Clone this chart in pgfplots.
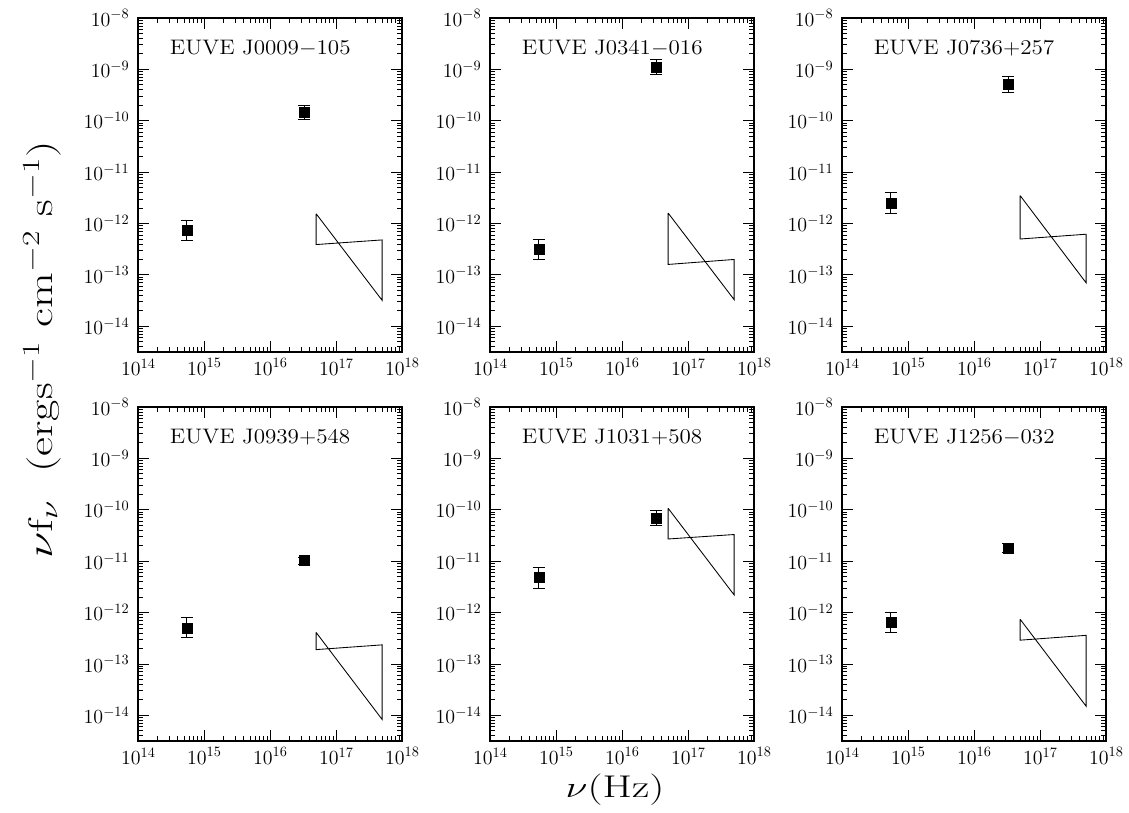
\documentclass[border=0pt]{standalone}
\usepackage{pgfplots}
\pgfplotsset{compat=1.18}

% tick label: 10 with a large raised exponent
\newcommand{\tl}[1]{\fontsize{14}{14}\selectfont 10\raisebox{5pt}{\fontsize{10}{10}\selectfont #1}}

% 1 px of the reference = 0.7pt
\pgfplotsset{every axis/.append style={
    xmode=log, ymode=log,
    scale only axis, width=184.8pt, height=233.8pt,
    anchor=north west,
    xmin=1e14, xmax=1e18, ymin=3.1623e-15, ymax=1e-8,
    xtick={1e14,1e15,1e16,1e17,1e18},
    ytick={1e-14,1e-13,1e-12,1e-11,1e-10,1e-9,1e-8},
    xticklabels={\tl{14},\tl{15},\tl{16},\tl{17},\tl{18}},
    yticklabels={\tl{$-$14},\tl{$-$13},\tl{$-$12},\tl{$-$11},\tl{$-$10},\tl{$-$9},\tl{$-$8}},
    xticklabel style={yshift=-1pt},
    yticklabel style={xshift=-3pt},
    minor xtick={2e14,3e14,4e14,5e14,6e14,7e14,8e14,9e14,
                 2e15,3e15,4e15,5e15,6e15,7e15,8e15,9e15,
                 2e16,3e16,4e16,5e16,6e16,7e16,8e16,9e16,
                 2e17,3e17,4e17,5e17,6e17,7e17,8e17,9e17},
    minor ytick={4e-15,5e-15,6e-15,7e-15,8e-15,9e-15,
                 2e-14,3e-14,4e-14,5e-14,6e-14,7e-14,8e-14,9e-14,
                 2e-13,3e-13,4e-13,5e-13,6e-13,7e-13,8e-13,9e-13,
                 2e-12,3e-12,4e-12,5e-12,6e-12,7e-12,8e-12,9e-12,
                 2e-11,3e-11,4e-11,5e-11,6e-11,7e-11,8e-11,9e-11,
                 2e-10,3e-10,4e-10,5e-10,6e-10,7e-10,8e-10,9e-10,
                 2e-9,3e-9,4e-9,5e-9,6e-9,7e-9,8e-9,9e-9},
    major tick length=8pt, minor tick length=3.5pt,
    axis line style={line width=0.9pt},
    tick style={black, line width=0.6pt},
}}
\newcommand{\ptitle}[1]{\node[anchor=west, font=\fontsize{14.7}{15}\selectfont, xscale=1.1]
  at (axis description cs:0.1,0.91) {#1};}

\begin{document}
\begin{tikzpicture}
\useasboundingbox (0,0) rectangle (790.3pt,-569.1pt);

% row 1
\begin{axis}[at={(96.6pt,-12.6pt)}]
\addplot[only marks, mark=square*, mark size=3.5pt, black,
  error bars/y dir=both, error bars/y explicit,
  error bars/error bar style={line width=0.7pt},
  error bars/error mark options={rotate=90, black, mark size=4.3pt, line width=0.7pt}]
  coordinates {(5.5e14,7.4e-13) += (0,4.1e-13) -= (0,2.8e-13)
  (3.3e16,1.45e-10) += (0,0.55e-10) -= (0,0.4e-10)};
\addplot[black, line width=0.6pt, mark=none] coordinates {(5e16,1.55e-12) (5e16,3.9e-13) (5e17,4.8e-13) (5e17,3.2e-14) (5e16,1.55e-12)};
\ptitle{EUVE J0009$-$105}
\end{axis}

\begin{axis}[at={(343pt,-12.6pt)}]
\addplot[only marks, mark=square*, mark size=3.5pt, black,
  error bars/y dir=both, error bars/y explicit,
  error bars/error bar style={line width=0.7pt},
  error bars/error mark options={rotate=90, black, mark size=4.3pt, line width=0.7pt}]
  coordinates {(5.5e14,3.2e-13) += (0,1.8e-13) -= (0,1.2e-13)
  (3.3e16,1.12e-9) += (0,4.6e-10) -= (0,3.4e-10)};
\addplot[black, line width=0.6pt, mark=none] coordinates {(5e16,1.6e-12) (5e16,1.6e-13) (5e17,2.0e-13) (5e17,3.3e-14) (5e16,1.6e-12)};
\ptitle{EUVE J0341$-$016}
\end{axis}

\begin{axis}[at={(589.4pt,-12.6pt)}]
\addplot[only marks, mark=square*, mark size=3.5pt, black,
  error bars/y dir=both, error bars/y explicit,
  error bars/error bar style={line width=0.7pt},
  error bars/error mark options={rotate=90, black, mark size=4.3pt, line width=0.7pt}]
  coordinates {(5.5e14,2.5e-12) += (0,1.5e-12) -= (0,0.95e-12)
  (3.3e16,5.1e-10) += (0,2.1e-10) -= (0,1.5e-10)};
\addplot[black, line width=0.6pt, mark=none] coordinates {(5e16,3.5e-12) (5e16,5e-13) (5e17,6.2e-13) (5e17,7e-14) (5e16,3.5e-12)};
\ptitle{EUVE J0736$+$257}
\end{axis}

% row 2
\begin{axis}[at={(96.6pt,-284.9pt)}]
\addplot[only marks, mark=square*, mark size=3.5pt, black,
  error bars/y dir=both, error bars/y explicit,
  error bars/error bar style={line width=0.7pt},
  error bars/error mark options={rotate=90, black, mark size=4.3pt, line width=0.7pt}]
  coordinates {(5.5e14,5e-13) += (0,3e-13) -= (0,1.8e-13)
  (3.3e16,1.05e-11) += (0,1.5e-12) -= (0,1.8e-12)};
\addplot[black, line width=0.6pt, mark=none] coordinates {(5e16,4.1e-13) (5e16,1.9e-13) (5e17,2.35e-13) (5e17,8.3e-15) (5e16,4.1e-13)};
\ptitle{EUVE J0939$+$548}
\end{axis}

\begin{axis}[at={(343pt,-284.9pt)}]
\addplot[only marks, mark=square*, mark size=3.5pt, black,
  error bars/y dir=both, error bars/y explicit,
  error bars/error bar style={line width=0.7pt},
  error bars/error mark options={rotate=90, black, mark size=4.3pt, line width=0.7pt}]
  coordinates {(5.5e14,4.8e-12) += (0,2.6e-12) -= (0,1.85e-12)
  (3.3e16,6.9e-11) += (0,2.9e-11) -= (0,1.9e-11)};
\addplot[black, line width=0.6pt, mark=none] coordinates {(5e16,1.07e-10) (5e16,2.7e-11) (5e17,3.3e-11) (5e17,2.2e-12) (5e16,1.07e-10)};
\ptitle{EUVE J1031$+$508}
\end{axis}

\begin{axis}[at={(589.4pt,-284.9pt)}]
\addplot[only marks, mark=square*, mark size=3.5pt, black,
  error bars/y dir=both, error bars/y explicit,
  error bars/error bar style={line width=0.7pt},
  error bars/error mark options={rotate=90, black, mark size=4.3pt, line width=0.7pt}]
  coordinates {(5.5e14,6.4e-13) += (0,3.6e-13) -= (0,2.4e-13)
  (3.3e16,1.8e-11) += (0,0.4e-11) -= (0,0.3e-11)};
\addplot[black, line width=0.6pt, mark=none] coordinates {(5e16,7.4e-13) (5e16,2.9e-13) (5e17,3.6e-13) (5e17,1.5e-14) (5e16,7.4e-13)};
\ptitle{EUVE J1256$-$032}
\end{axis}

% shared axis labels
\node[rotate=90, xscale=1.35, font=\fontsize{24}{24}\selectfont] at (29.4pt,-245pt)
  {$\nu$f$_\nu$\ \ (ergs$^{-1}$ cm$^{-2}$ s$^{-1}$)};
\node[xscale=1.35, font=\fontsize{22}{22}\selectfont] at (430.5pt,-553pt) {$\nu$(Hz)};
\end{tikzpicture}
\end{document}
